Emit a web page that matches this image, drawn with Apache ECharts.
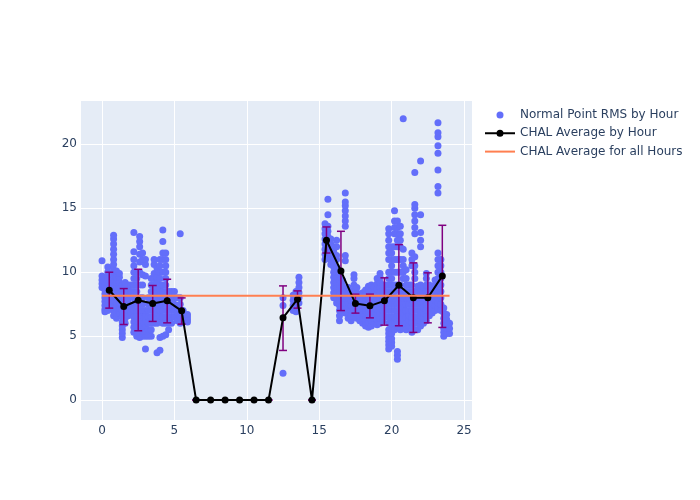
<!DOCTYPE html>
<html>
<head>
<meta charset="utf-8">
<script src="https://cdn.jsdelivr.net/npm/echarts@6/dist/echarts.min.js"></script>
<style>html,body{margin:0;padding:0;background:#fff}#c{width:700px;height:500px}</style>
</head>
<body>
<div id="c"></div>
<script>
// ---- data ----
const seriesNames = ["Normal Point RMS by Hour", "CHAL Average by Hour", "CHAL Average for all Hours"];

const hours = [0.5,1.5,2.5,3.5,4.5,5.5,6.5,7.5,8.5,9.5,10.5,11.5,12.5,13.5,14.5,15.5,16.5,17.5,18.5,19.5,20.5,21.5,22.5,23.5];
const avgRms = [8.59,7.32,7.81,7.55,7.76,6.98,0,0,0,0,0,0,6.43,7.89,0,12.5,10.1,7.55,7.37,7.76,8.98,8.0,8.0,9.71];
const errLow = [7.19,5.91,5.42,6.15,6.04,5.94,0,0,0,0,0,0,3.88,7.19,0,11.5,7.0,6.8,6.43,5.86,5.81,5.29,6.04,5.68];
const errHigh = [10.0,8.72,10.23,8.96,9.45,7.99,0,0,0,0,0,0,8.93,8.54,0,13.54,13.2,8.28,8.28,9.56,12.16,10.73,9.95,13.67];

const overallAvg = 8.15;
const overallX = [0, 24];

// scatter columns: [hour, [rms values]]
const scatterCols = [
 [0.0,[8.8,9.1,9.4,9.7,10.9]],
 [0.2,[6.9,7.1,7.4,7.7,8.0,8.3,8.6,9.0]],
 [0.4,[7.0,7.3,7.6,7.9,8.2,8.5,8.8,9.2,9.6,10.0,10.4]],
 [0.6,[7.2,7.5,7.8,8.1,8.4,8.7,9.0,9.3]],
 [0.8,[6.6,7.0,7.4,7.8,8.2,8.6,9.0,9.4,9.8,10.2,10.6,11.0,11.4,11.8,12.2,12.6,12.9]],
 [1.0,[6.4,6.8,7.2,7.6,8.0,8.4,8.8,9.2,9.6,10.1]],
 [1.2,[6.8,7.2,7.6,8.0,8.4,8.8,9.2,9.6,9.9]],
 [1.4,[4.9,5.2,5.5,5.8,6.1,6.5,7.0,7.5,8.0,8.5,9.0]],
 [1.6,[6.0,6.4,6.8,7.2,7.6,8.0,8.4,8.8,9.2]],
 [1.8,[6.6,7.0,7.4,7.8,8.2,8.6,9.0]],
 [2.0,[6.8,7.2,8.5,9.0]],
 [2.2,[5.3,5.7,6.1,6.5,7.0,7.5,8.0,8.5,9.0,9.5,10.0,10.5,11.0,11.6,13.1]],
 [2.4,[5.0,5.4,5.8,6.2,6.6,7.0,7.5,8.0,8.5,9.0,9.5,10.0]],
 [2.6,[4.9,5.3,5.7,6.1,6.5,7.0,7.5,8.0,9.0,10.0,10.8,11.4,12.0,12.4,12.8]],
 [2.8,[5.0,5.4,5.8,6.2,6.6,7.0,7.5,8.0,9.0,9.8,11.0,11.5]],
 [3.0,[4.0,5.0,5.4,5.8,6.2,6.6,7.0,9.7,10.6,11.0]],
 [3.2,[5.0,5.5,6.0,6.5,7.0,7.5,8.0]],
 [3.4,[5.0,5.5,6.0,6.5,7.0,7.5,8.0,8.5,9.0,9.5]],
 [3.6,[6.0,6.5,7.0,7.5,8.0,8.5,9.0,9.5,9.9,10.6,11.0]],
 [3.8,[3.7,6.0,6.4,6.8,7.2,7.6,8.0,8.4,8.8,9.2,9.6,10.3]],
 [4.0,[3.9,4.9,6.2,6.6,7.0,7.4,7.8,8.2,8.6,9.0,9.5,10.0,10.5,11.0]],
 [4.2,[5.0,6.0,6.5,7.0,7.5,8.0,8.5,9.0,10.0,11.0,11.5,12.4,13.3]],
 [4.4,[5.1,6.0,6.5,7.0,7.5,8.0,8.5,9.0,9.5,10.0,10.5,11.0,11.5]],
 [4.6,[5.5,6.0,6.5,7.0,7.5,8.0,8.5]],
 [4.8,[6.0,6.5,7.0,7.5,8.0,8.5]],
 [5.0,[6.5,7.0,7.5,8.0,8.5]],
 [5.2,[6.2,6.8,7.4,8.0]],
 [5.4,[6.0,6.5,7.0,7.5,8.0,13.0]],
 [5.6,[6.2,6.6,7.0]],
 [5.9,[6.1,6.3,6.5,6.7]],
 [12.5,[2.1,7.4,8.0]],
 [13.2,[7.0,7.4,7.8,8.2]],
 [13.4,[6.9,7.3,7.7,8.1,8.5]],
 [13.6,[7.6,8.0,8.4,8.8,9.2,9.6]],
 [15.4,[11.0,11.4,11.8,12.2,12.6,13.0,13.4,13.8]],
 [15.6,[11.2,11.6,12.0,12.4,12.8,13.2,13.6,14.5,15.7]],
 [15.8,[10.6,11.0,11.4,11.8,12.2,12.6]],
 [16.0,[8.0,8.4,8.8,9.2,9.6,10.0,10.4,10.8,11.2,11.6,12.0]],
 [16.2,[7.6,8.0,8.4,8.8,9.2,9.6,10.0,10.4,11.0,11.3,12.0,12.5]],
 [16.4,[6.2,6.6,7.0,7.4,7.8,8.2,8.6,9.0,9.4,9.8]],
 [16.6,[7.4,7.8,8.2,8.6,9.0,9.4]],
 [16.8,[6.8,7.2,7.6,8.0,8.4,10.9,11.3,13.6,14.0,14.4,14.8,15.2,15.5,16.2]],
 [17.0,[6.4,6.8,7.2,7.6,8.0,8.4,8.8]],
 [17.2,[6.2,6.6,7.0,7.4,7.8,8.2]],
 [17.4,[6.6,7.0,7.4,7.8,8.2,8.6,9.0,9.5,9.8]],
 [17.6,[6.4,6.8,7.2,7.6,8.0,8.4,8.8]],
 [17.8,[6.2,6.6,7.0,7.4,7.8,8.2]],
 [18.0,[6.0,6.4,6.8,7.2,7.6,8.0,8.4]],
 [18.2,[5.8,6.2,6.6,7.0,7.4,7.8,8.2,8.6]],
 [18.4,[5.7,6.1,6.5,6.9,7.3,7.7,8.1,8.5,8.9]],
 [18.6,[5.8,6.2,6.6,7.0,7.4,7.8,8.2,8.6,9.0]],
 [18.8,[6.0,6.4,6.8,7.2,7.6,8.0,8.4,8.8]],
 [19.0,[5.9,6.3,6.7,7.1,7.5,7.9,8.3,8.7,9.1,9.5]],
 [19.2,[6.0,6.4,6.8,7.2,7.6,8.0,8.4,8.8,9.2,9.6,9.9]],
 [19.4,[6.2,6.6,7.0,7.4,7.8,8.2,8.6,9.0]],
 [19.6,[6.5,7.0,7.5,8.0,8.5,9.0]],
 [19.8,[4.0,4.3,4.6,4.9,5.2,5.5,6.0,6.5,7.0,7.5,8.0,8.5,9.0,9.5,10.0,11.0,11.5,12.0,12.5,13.0,13.4]],
 [20.0,[4.2,4.5,4.8,5.2,5.6,6.0,6.5,7.0,7.5,8.0,8.5,9.0,9.5,10.0,10.5,11.0,11.5,12.0]],
 [20.2,[5.5,6.0,6.5,7.0,7.5,8.0,8.5,9.0,10.0,11.0,12.0,13.0,13.5,14.0,14.8]],
 [20.4,[3.2,3.5,3.8,5.8,6.2,6.6,7.0,7.5,8.0,9.0,10.0,11.0,12.0,12.5,13.0,13.5,14.0]],
 [20.6,[5.5,6.0,6.5,7.0,7.5,8.0,8.5,9.0,10.0,11.0,12.0,12.5,13.0,13.6]],
 [20.8,[5.6,6.0,6.4,6.8,7.2,7.6,8.0,8.5,9.5,10.0,10.5,11.0,11.8,22.0]],
 [21.0,[5.5,6.0,6.5,7.0,7.5,8.0,8.5,9.0,9.5,10.2]],
 [21.2,[5.8,6.2,6.6,7.0,7.5,8.0,8.5,9.0]],
 [21.4,[5.3,5.7,6.1,6.5,7.0,7.5,8.0,8.5,9.0,10.5,11.0,11.5]],
 [21.6,[5.5,6.0,6.5,7.0,7.5,8.0,8.5,9.5,10.0,10.5,11.2,13.0,13.5,14.0,14.5,15.0,15.3,17.8]],
 [21.8,[5.5,6.0,6.5,7.0,7.5,8.0,8.5,8.9]],
 [22.0,[5.8,6.2,6.6,7.0,7.5,8.0,8.5,9.0,12.0,12.5,13.1,14.5,18.7]],
 [22.2,[6.0,6.4,6.8,7.2,7.6,8.0,8.4,8.8]],
 [22.4,[6.2,6.6,7.0,7.5,8.0,8.5,9.0,9.5,9.9]],
 [22.6,[6.6,7.0,7.4,7.8,8.2,8.6,9.0]],
 [22.8,[6.8,7.2,7.6,8.0,8.4,8.8]],
 [23.0,[7.0,7.4,7.8,8.2,8.6,9.0,9.4]],
 [23.2,[7.2,7.6,8.0,8.5,9.0,9.5,10.0,10.5,11.0,11.5,16.2,16.7,18.0,19.3,19.9,20.6,20.9,21.7]],
 [23.4,[7.0,7.5,8.0,8.5,9.0,9.5,10.0,10.5,11.0]],
 [23.6,[5.0,5.3,5.6,6.0,6.4,6.8,7.2]],
 [23.8,[5.2,5.6,6.0,6.3,6.7]],
 [24.0,[5.2,5.6,6.0]]
];

// ---- build chart ----
const scatterData = [];
scatterCols.forEach(c => c[1].forEach(v => scatterData.push([c[0], v])));
const lineData = hours.map((h, i) => [h, avgRms[i]]);
const errData = hours.map((h, i) => [h, errLow[i], errHigh[i]]);
const overallData = overallX.map(x => [x, overallAvg]);

const FONT = '"DejaVu Sans", Verdana, sans-serif';
const TXT = '#2a3f5f';

const chart = echarts.init(document.getElementById('c'), null, {renderer: 'canvas'});
chart.setOption({
  animation: false,
  backgroundColor: '#fff',
  textStyle: {fontFamily: FONT},
  grid: {left: 80, top: 100, width: 392, height: 320, show: true, backgroundColor: '#E5ECF6', borderWidth: 0, containLabel: false},
  xAxis: {
    type: 'value', min: -1.52, max: 25.55, splitNumber: 5,
    axisLine: {show: false}, axisTick: {show: false},
    splitLine: {show: true, lineStyle: {color: '#fff', width: 1}},
    axisLabel: {color: TXT, fontSize: 12, fontFamily: FONT, margin: 5, showMinLabel: false, showMaxLabel: false}
  },
  yAxis: {
    type: 'value', min: -1.56, max: 23.47, splitNumber: 5,
    axisLine: {show: false}, axisTick: {show: false},
    splitLine: {show: true, lineStyle: {color: '#fff', width: 1}},
    axisLabel: {color: TXT, fontSize: 12, fontFamily: FONT, margin: 3, showMinLabel: false, showMaxLabel: false}
  },
  legend: {
    orient: 'vertical', left: 485, top: 108, padding: 0,
    itemWidth: 30, itemHeight: 14, itemGap: 4.3, itemTextGap: 5,
    textStyle: {color: TXT, fontSize: 12, fontFamily: FONT},
    data: [
      {name: seriesNames[0], icon: 'path://M0 0 M30 14 M11.5 7 a3.5 3.5 0 1 1 7 0 a3.5 3.5 0 1 1 -7 0 Z', itemStyle: {color: '#636efa'}},
      {name: seriesNames[1], icon: 'path://M0 0 M30 14 M0 6 L30 6 L30 8 L0 8 Z M11.5 7 a3.5 3.5 0 1 1 7 0 a3.5 3.5 0 1 1 -7 0 Z', itemStyle: {color: '#000'}},
      {name: seriesNames[2], icon: 'path://M0 0 M30 14 M0 6 L30 6 L30 8 L0 8 Z', itemStyle: {color: '#ff7f50'}}
    ]
  },
  series: [
    {
      name: seriesNames[0], type: 'scatter', data: scatterData, z: 1,
      symbol: 'circle', symbolSize: 7, itemStyle: {color: '#636efa', opacity: 1}
    },
    {
      name: 'err', type: 'custom', z: 2, data: errData,
      renderItem: function (params, api) {
        const x = api.value(0);
        const lo = api.coord([x, api.value(1)]);
        const hi = api.coord([x, api.value(2)]);
        const hw = 4;
        const st = {stroke: '#800080', lineWidth: 1.5, fill: null};
        return {type: 'group', children: [
          {type: 'line', shape: {x1: lo[0], y1: lo[1], x2: hi[0], y2: hi[1]}, style: st},
          {type: 'line', shape: {x1: lo[0]-hw, y1: lo[1], x2: lo[0]+hw, y2: lo[1]}, style: st},
          {type: 'line', shape: {x1: hi[0]-hw, y1: hi[1], x2: hi[0]+hw, y2: hi[1]}, style: st}
        ]};
      }
    },
    {
      name: seriesNames[1], type: 'line', data: lineData, z: 3,
      symbol: 'circle', symbolSize: 7, showAllSymbol: true,
      lineStyle: {color: '#000', width: 2}, itemStyle: {color: '#000'}
    },
    {
      name: seriesNames[2], type: 'line', data: overallData, z: 4,
      symbol: 'none', lineStyle: {color: '#ff7f50', width: 2}, itemStyle: {color: '#ff7f50'}
    }
  ]
});
</script>
</body>
</html>
